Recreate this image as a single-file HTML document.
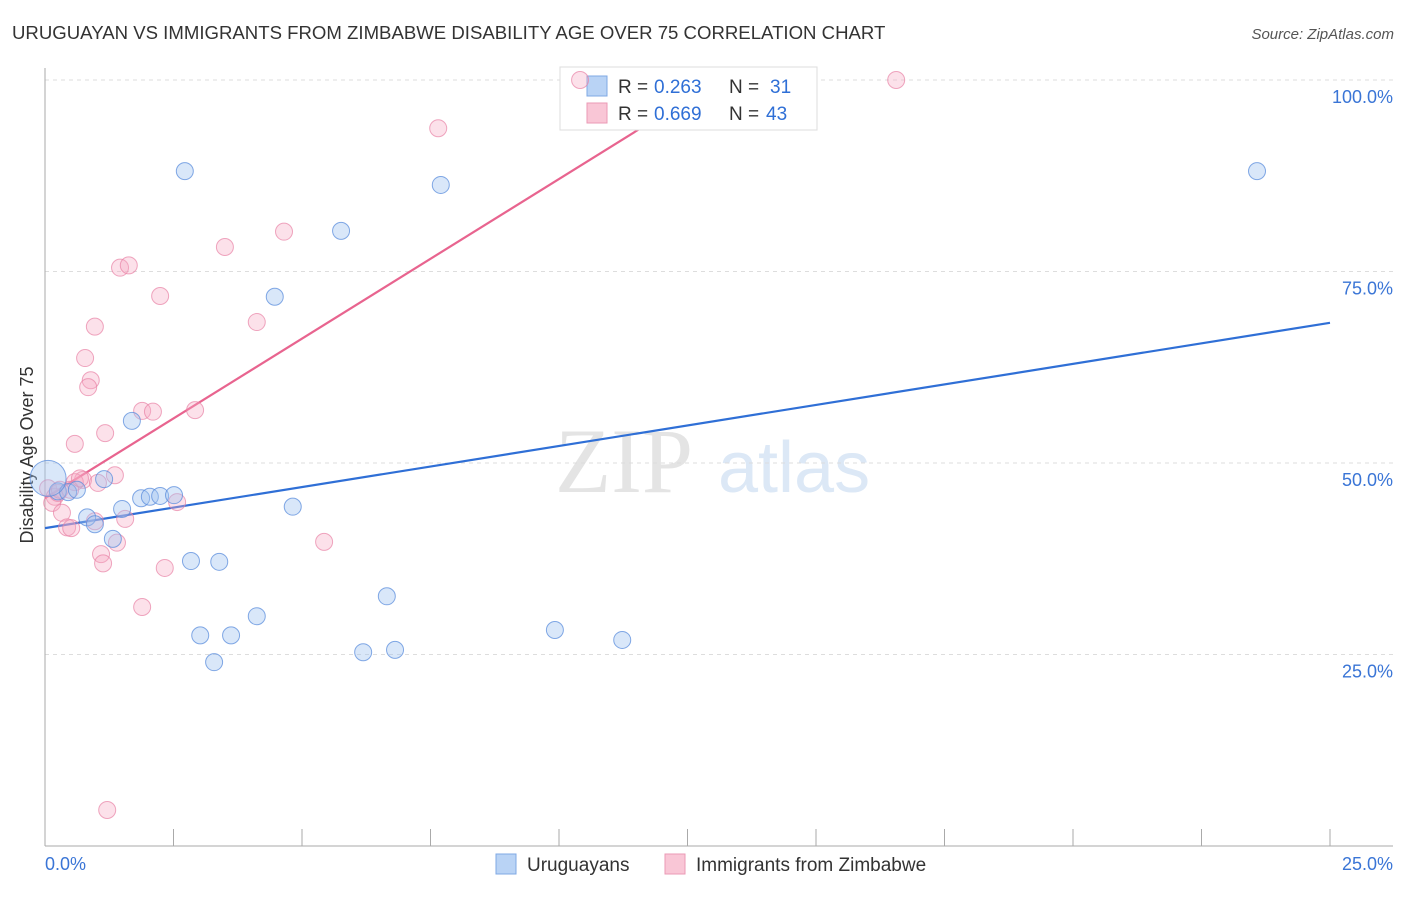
<!DOCTYPE html>
<html><head><meta charset="utf-8"><style>
body{margin:0;background:#fff;font-family:"Liberation Sans",sans-serif;}
</style></head><body>
<svg width="1406" height="892" xmlns="http://www.w3.org/2000/svg" id="chart">
<text x="12" y="39" font-size="18.6" fill="#333">URUGUAYAN VS IMMIGRANTS FROM ZIMBABWE DISABILITY AGE OVER 75 CORRELATION CHART</text>
<text x="1394" y="39" font-size="15" fill="#555" font-style="italic" text-anchor="end">Source: ZipAtlas.com</text>
<text x="33" y="455" font-size="18" fill="#333" text-anchor="middle" transform="rotate(-90 33 455)">Disability Age Over 75</text>
<g><text x="555" y="492" font-size="92" fill="#e4e4e4" font-family="Liberation Serif,serif">ZIP</text><text x="718" y="492" font-size="72" fill="#dce8f6">atlas</text></g>
<g id="grid"></g><g id="axes"></g><g id="lines"></g>
<g>
<rect x="560" y="67" width="257" height="63" fill="#fff" stroke="#ddd"/>
<rect x="587" y="76" width="20" height="20" fill="#b9d3f5" stroke="#7fa8e4"/>
<text x="618" y="93" font-size="19" fill="#333">R =</text>
<text x="654" y="93" font-size="19" fill="#2f6fd6">0.263</text>
<text x="729" y="93" font-size="19" fill="#333">N =</text>
<text x="770" y="93" font-size="19" fill="#2f6fd6">31</text>
<rect x="587" y="103" width="20" height="20" fill="#f9c6d6" stroke="#eb9ab5"/>
<text x="618" y="120" font-size="19" fill="#333">R =</text>
<text x="654" y="120" font-size="19" fill="#2f6fd6">0.669</text>
<text x="729" y="120" font-size="19" fill="#333">N =</text>
<text x="766" y="120" font-size="19" fill="#2f6fd6">43</text>
</g>
<g id="marks"></g>
<g>
<rect x="496" y="854" width="20" height="20" fill="#b9d3f5" stroke="#7fa8e4"/>
<text x="527" y="871" font-size="19" fill="#333">Uruguayans</text>
<rect x="665" y="854" width="20" height="20" fill="#f9c6d6" stroke="#eb9ab5"/>
<text x="696" y="871" font-size="19" fill="#333">Immigrants from Zimbabwe</text>
</g>
</svg>
<script>
const blueX=[2.72,7.70,23.58,5.76,4.47,1.69,1.15,0.25,0.45,0.62,1.87,2.04,2.24,2.51,1.50,4.82,0.82,0.97,1.32,2.84,3.39,6.65,4.12,3.02,3.62,3.29,6.19,6.81,9.92,11.23,0.06];
const blueY=[88.1,86.3,88.1,80.3,71.7,55.5,47.9,46.3,46.2,46.5,45.4,45.6,45.7,45.8,44.0,44.3,42.9,42.0,40.1,37.2,37.1,32.6,30.0,27.5,27.5,24.0,25.3,25.6,28.2,26.9,48.0];
const pinkX=[10.41,16.56,7.65,3.50,4.65,1.46,1.63,2.24,4.12,0.97,0.78,0.89,0.84,1.89,2.10,2.92,1.17,0.58,1.36,0.74,0.58,1.03,0.06,0.19,0.14,2.57,0.33,0.43,0.51,0.97,1.56,1.09,1.13,1.40,5.43,2.33,1.89,1.21,0.25,0.29,0.49,0.68];
const pinkY=[100,100,93.7,78.2,80.2,75.5,75.8,71.8,68.4,67.8,63.7,60.8,59.9,56.8,56.7,56.9,53.9,52.5,48.4,47.8,47.5,47.4,46.7,45.6,44.8,44.9,43.5,41.6,41.5,42.4,42.7,38.1,36.9,39.6,39.7,36.3,31.2,4.7,46.1,46.5,46.5,48.0];
const blueTrend=[41.5,68.3];
const pinkTrend=[45.4,100];
const pinkTrendEndX=13.1;
const yTicks=[25,50,75,100];
const yTickLabels=["25.0%","50.0%","75.0%","100.0%"];
const xTicks=[0,2.5,5,7.5,10,12.5,15,17.5,20,22.5,25];
const NS="http://www.w3.org/2000/svg";
const X=v=>45+v*51.4, Y=v=>846-v*7.66;
function mk(t,a,p){const e=document.createElementNS(NS,t);for(const k in a)e.setAttribute(k,a[k]);p.appendChild(e);return e;}
const grid=document.getElementById('grid'),axes=document.getElementById('axes'),marks=document.getElementById('marks'),lines=document.getElementById('lines');
yTicks.forEach((v,i)=>{
 const g=mk('line',{x1:45,x2:1393,y1:Y(v),y2:Y(v),stroke:'#ddd','stroke-dasharray':'4,4'},grid);
 
 
 const t=mk('text',{x:1393,y:Y(v)+23,'font-size':18,fill:'#3a75d6','text-anchor':'end'},axes);
 t.textContent=yTickLabels[i];
 
 
});
const ax=mk('line',{x1:45,x2:45,y1:68,y2:846,stroke:'#aaa'},axes);


const bx=mk('line',{x1:45,x2:1393,y1:846,y2:846,stroke:'#aaa'},axes);


xTicks.forEach(v=>{const l=mk('line',{x1:X(v),x2:X(v),y1:829,y2:846,stroke:'#aaa'},axes);
 
 });
const x0=mk('text',{x:45,y:870,'font-size':18,fill:'#3a75d6'},axes);x0.textContent='0.0%';


const x1=mk('text',{x:1393,y:870,'font-size':18,fill:'#3a75d6','text-anchor':'end'},axes);x1.textContent='25.0%';


pinkX.forEach((v,i)=>{const c=mk('circle',{cx:X(v),cy:Y(pinkY[i]),r:8.5,fill:'rgba(246,170,195,0.35)',stroke:'rgba(232,130,165,0.7)','stroke-width':1},marks);
 
 });
blueX.forEach((v,i)=>{const c=mk('circle',{cx:X(v),cy:Y(blueY[i]),r:i==blueX.length-1?18:8.5,fill:'rgba(160,195,240,0.4)',stroke:'rgba(90,140,220,0.75)','stroke-width':1},marks);
 
 });
const bl=mk('line',{x1:X(0),y1:Y(blueTrend[0]),x2:X(25),y2:Y(blueTrend[1]),stroke:'#2f6fd6','stroke-width':2.2},lines);


const pl=mk('line',{x1:X(0),y1:Y(pinkTrend[0]),x2:X(pinkTrendEndX),y2:Y(pinkTrend[1]),stroke:'#e8648f','stroke-width':2.2},lines);


</script>
</body></html>
